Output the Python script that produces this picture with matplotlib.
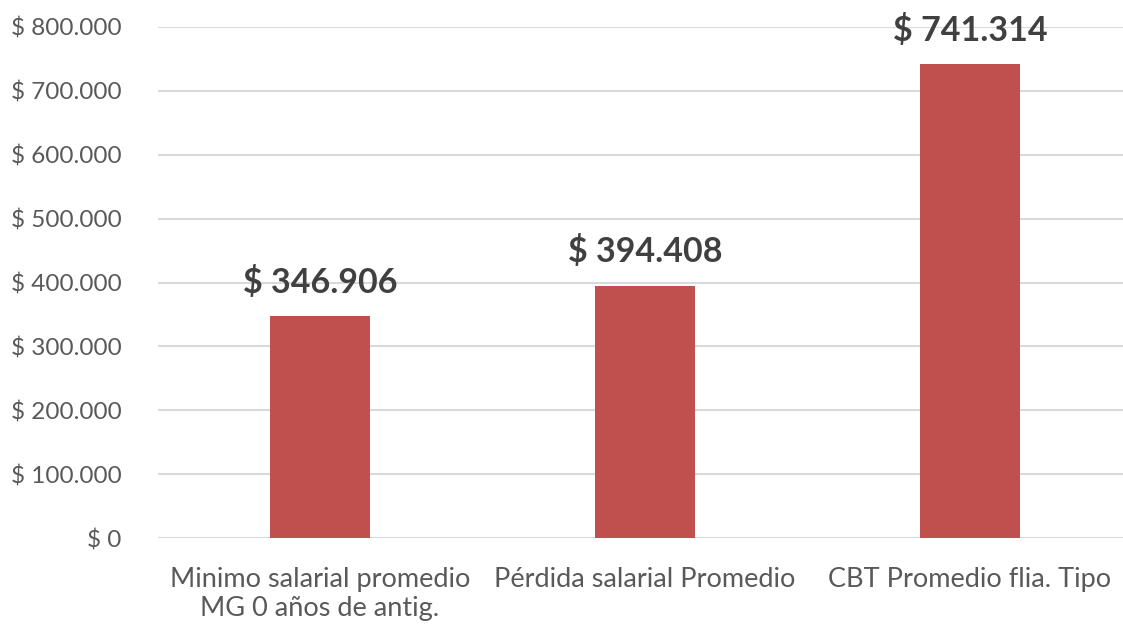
import numpy as np
import matplotlib.pyplot as plt
from matplotlib.ticker import FuncFormatter

categorias = ['Minimo salarial promedio\nMG 0 años de antig.',
              'Pérdida salarial Promedio',
              'CBT Promedio flia. Tipo']
valores = [346906, 394408, 741314]
etiquetas = ['$ 346.906', '$ 394.408', '$ 741.314']

plt.rcParams['font.family'] = ['Lato', 'DejaVu Sans']

fig = plt.figure(figsize=(11.23, 6.3), dpi=100)
ax = fig.add_axes([157.5/1123, 92/630, 975/1123, 511/630])

x = np.arange(len(valores))
ax.bar(x, valores, width=0.31, color='#C0504D', zorder=3)
for xi, v, t in zip(x, valores, etiquetas):
    ax.text(xi, v + 28000, t, ha='center', va='bottom', fontsize=24.5,
            fontweight='bold', color='#404040', zorder=4)

ax.set_xlim(-0.5, 2.5)
ax.set_ylim(0, 800000)
ax.set_yticks(np.arange(0, 800001, 100000))
ax.yaxis.set_major_formatter(FuncFormatter(lambda v, p: '$ ' + f'{int(v):,}'.replace(',', '.')))
ax.set_xticks(x)
ax.set_xticklabels(categorias, fontsize=19.5, color='#595959', linespacing=1.2)
ax.tick_params(axis='y', labelsize=17.5, labelcolor='#595959', length=0, pad=26)
ax.tick_params(axis='x', length=0, pad=21)
ax.grid(axis='y', color='#D9D9D9', linewidth=1.5, zorder=0)
for s in ax.spines.values():
    s.set_visible(False)

plt.savefig('out.png', dpi=100)
